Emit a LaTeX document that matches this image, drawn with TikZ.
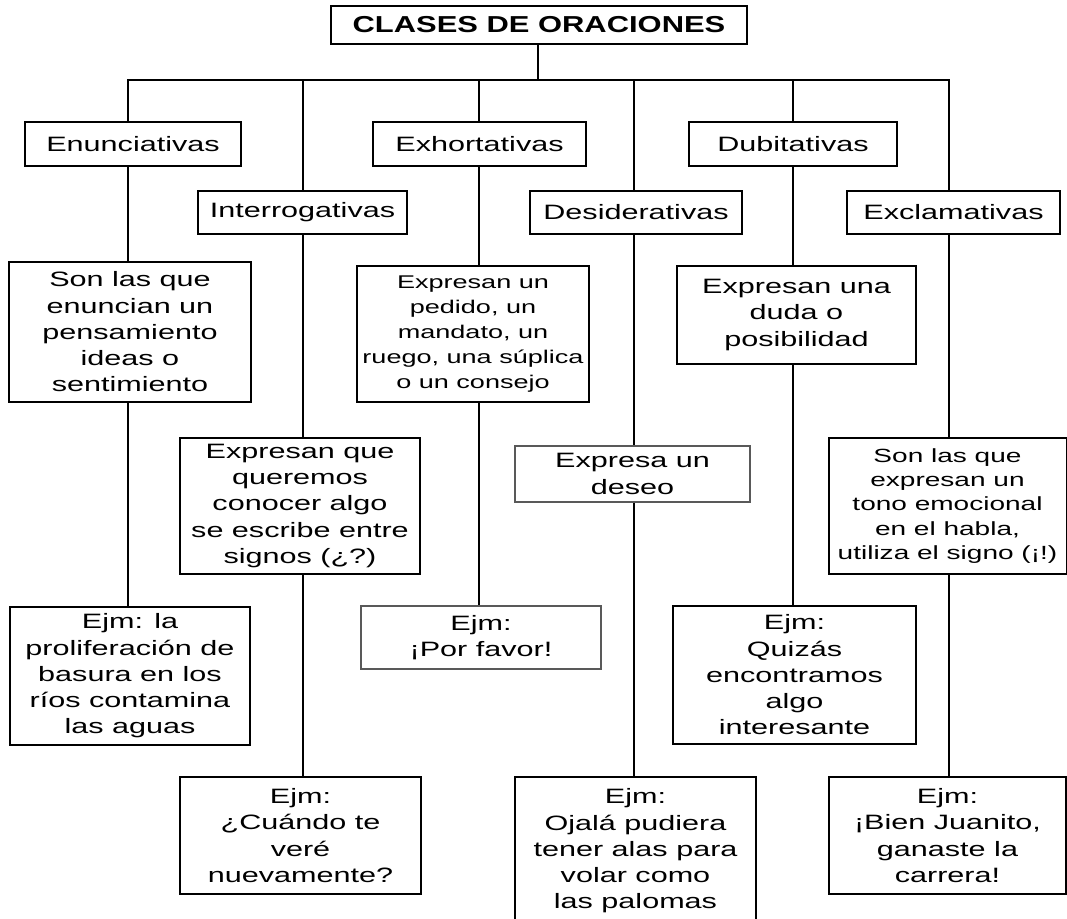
\documentclass[tikz,border=0pt]{standalone}
\usepackage{fontspec}
\setmainfont{Liberation Sans}[FakeStretch=1.47]
\newfontfamily\titulofont{Liberation Sans}[FakeStretch=1.34]
\usepackage{tikz}

\tikzset{
  caja/.style={draw, line width=1.5pt, inner sep=0pt, align=center,
    font=\fontsize{15.6}{19.7}\selectfont},
  fina/.style={line width=0.8pt, draw=black!65},
  rama/.style={line width=2pt},
}

\begin{document}
\begin{tikzpicture}[x=0.75pt,y=0.75pt,yscale=-1,xscale=1]
\useasboundingbox (0,0) rectangle (1067,919);
\clip (0,0) rectangle (1067,919);
% Title
\node (titulo) [caja, line width=1.8pt, minimum width=312pt, minimum height=28.5pt,
  font=\titulofont\bfseries\fontsize{17.3}{20}\selectfont] at (539,25) {CLASES DE ORACIONES};
% Clases
\node (enun) [caja, minimum width=162pt, minimum height=33pt] at (133,144) {Enunciativas};
\node (inte) [caja, minimum width=156.75pt, minimum height=32.25pt] at (302.5,212.5) {Interrogativas};
\node (exho) [caja, minimum width=159.75pt, minimum height=33pt] at (479.5,144) {Exhortativas};
\node (desi) [caja, minimum width=159pt, minimum height=32.25pt] at (636,212.5) {Desiderativas};
\node (dubi) [caja, minimum width=156pt, minimum height=33pt] at (793,144) {Dubitativas};
\node (excl) [caja, minimum width=159.75pt, minimum height=32.25pt] at (953.5,212.5) {Exclamativas};
% Definiciones
\node (enunDef) [caja, minimum width=181.5pt, minimum height=105pt] at (130,332)
  {Son las que\\enuncian un\\pensamiento\\ideas o\\sentimiento};
\node (inteDef) [caja, minimum width=180pt, minimum height=102pt] at (300,506)
  {Expresan que\\queremos\\conocer algo\\se escribe entre\\signos (¿?)};
\node (exhoDef) [caja, minimum width=174pt, minimum height=102pt,
  font=\fontsize{13.8}{18.8}\selectfont] at (473,334)
  {Expresan un\\pedido, un\\mandato, un\\ruego, una súplica\\o un consejo};
\node (desiDef) [caja, fina, minimum width=176.25pt, minimum height=42pt] at (632.5,474)
  {Expresa un\\deseo};
\node (dubiDef) [caja, minimum width=179.25pt, minimum height=73.5pt] at (796.5,315)
  {Expresan una\\duda o\\posibilidad};
\node (exclDef) [caja, minimum width=178.5pt, minimum height=102pt,
  font=\fontsize{14.3}{18.2}\selectfont] at (947.5,506)
  {Son las que\\expresan un\\tono emocional\\en el habla,\\utiliza el signo (¡!)};
% Ejemplos
\node (enunEjm) [caja, minimum width=180pt, minimum height=103.5pt] at (130,676)
  {Ejm: la\\proliferación de\\basura en los\\ríos contamina\\las aguas};
\node (inteEjm) [caja, minimum width=180.75pt, minimum height=87.75pt] at (300.5,835.5)
  {Ejm:\\¿Cuándo te\\veré\\nuevamente?};
\node (exhoEjm) [caja, fina, minimum width=180pt, minimum height=47.25pt] at (481,637.5)
  {Ejm:\\¡Por favor!};
\node (desiEjm) [caja, minimum width=180.75pt, minimum height=111pt] at (635.5,851)
  {Ejm:\\Ojalá pudiera\\tener alas para\\volar como\\las palomas};
\node (dubiEjm) [caja, minimum width=182.25pt, minimum height=103.5pt] at (794.5,675)
  {Ejm:\\Quizás\\encontramos\\algo\\interesante};
\node (exclEjm) [caja, minimum width=177.75pt, minimum height=87.75pt] at (947.5,835.5)
  {Ejm:\\¡Bien Juanito,\\ganaste la\\carrera!};
% Bus
\coordinate (b1) at (128,80);
\coordinate (b2) at (303,80);
\coordinate (b3) at (479,80);
\coordinate (b4) at (634,80);
\coordinate (b5) at (793,80);
\coordinate (b6) at (949,80);
%Straight Lines
\draw [rama] (titulo.south -| 538,0) -- (538,80);
\draw [rama] (b1 |- enun.north) -- (b1) -- (b6) -- (b6 |- excl.north);
\draw [rama] (b2) -- (b2 |- inte.north);
\draw [rama] (b3) -- (b3 |- exho.north);
\draw [rama] (b4) -- (b4 |- desi.north);
\draw [rama] (b5) -- (b5 |- dubi.north);
%Straight Lines
\draw [rama] (b1 |- enun.south) -- (b1 |- enunDef.north);
\draw [rama] (b2 |- inte.south) -- (b2 |- inteDef.north);
\draw [rama] (b3 |- exho.south) -- (b3 |- exhoDef.north);
\draw [rama] (b4 |- desi.south) -- (b4 |- desiDef.north);
\draw [rama] (b5 |- dubi.south) -- (b5 |- dubiDef.north);
\draw [rama] (b6 |- excl.south) -- (b6 |- exclDef.north);
%Straight Lines
\draw [rama] (b1 |- enunDef.south) -- (b1 |- enunEjm.north);
\draw [rama] (b2 |- inteDef.south) -- (b2 |- inteEjm.north);
\draw [rama] (b3 |- exhoDef.south) -- (b3 |- exhoEjm.north);
\draw [rama] (b4 |- desiDef.south) -- (b4 |- desiEjm.north);
\draw [rama] (b5 |- dubiDef.south) -- (b5 |- dubiEjm.north);
\draw [rama] (b6 |- exclDef.south) -- (b6 |- exclEjm.north);
\end{tikzpicture}
\end{document}
